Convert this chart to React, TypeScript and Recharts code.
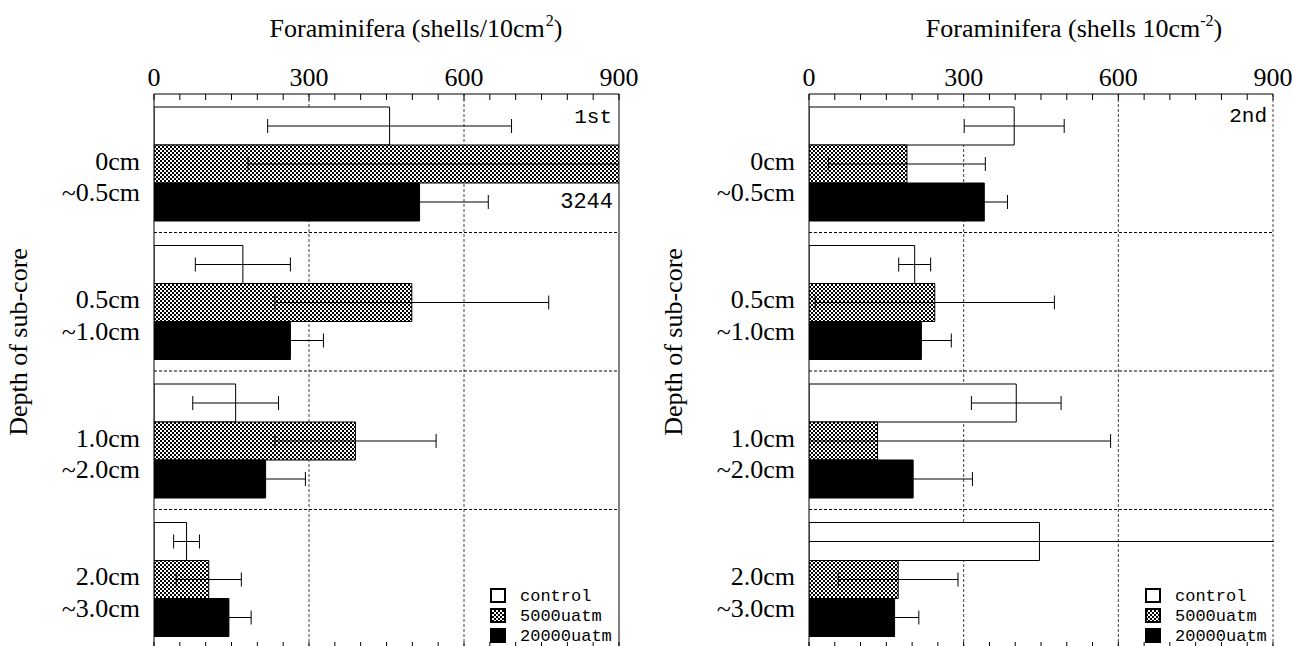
import React from 'react'
import { BarChart, Bar, XAxis, YAxis, CartesianGrid, ErrorBar, ReferenceLine } from 'recharts'

// depth classes of the sub-core (two lines per category)
const depthTop = ['0cm', '0.5cm', '1.0cm', '2.0cm']
const depthBottom = ['~0.5cm', '~1.0cm', '~2.0cm', '~3.0cm']
const seriesNames = ['control', '5000uatm', '20000uatm']
const xTicks = [0, 50, 100, 150, 200, 250, 300, 350, 400, 450, 500, 550, 600, 650, 700, 750, 800, 850, 900]
const majorTicks = [0, 300, 600, 900]

// 1st experiment
const firstControl = [456, 172, 158, 63]
const firstControlErr = [236, 92, 83, 25]
const first5000 = [3244, 499, 390, 106]
const first5000Err = [3062, 265, 156, 63]
const first20000 = [514, 264, 216, 145]
const first20000Err = [133, 64, 77, 43]

// 2nd experiment
const secondControl = [398, 205, 402, 447]
const secondControlErr = [97, 31, 87, 480]
const second5000 = [190, 244, 133, 173]
const second5000Err = [152, 232, 452, 116]
const second20000 = [340, 218, 202, 166]
const second20000Err = [45, 58, 115, 47]

const serif = '"Liberation Serif", "Times New Roman", serif'
const mono = '"Liberation Mono", monospace'

const buildRows = (
  c: number[], ce: number[], m: number[], me: number[], h: number[], he: number[],
) =>
  depthTop.map((d, i) => ({
    depth: `${d}|${depthBottom[i]}`,
    control: c[i],
    controlErr: ce[i],
    mid: m[i],
    midErr: me[i],
    high: h[i],
    highErr: he[i],
  }))

const firstRows = buildRows(firstControl, firstControlErr, first5000, first5000Err, first20000, first20000Err)
const secondRows = buildRows(secondControl, secondControlErr, second5000, second5000Err, second20000, second20000Err)

const TopTick = (props: any) => {
  const { x, y, payload } = props
  const axisY = y + 8
  return (
    <g>
      <line x1={x} x2={x} y1={axisY} y2={axisY + 6} stroke="#000" strokeWidth={1} />
      {majorTicks.includes(payload.value) && (
        <text x={x} y={y} textAnchor="middle" fontFamily={serif} fontSize={26} fill="#000">
          {payload.value}
        </text>
      )}
    </g>
  )
}

const BottomTick = (props: any) => {
  const { x, y } = props
  return <line x1={x} x2={x} y1={y} y2={y - 6} stroke="#000" strokeWidth={1} />
}

const DepthTick = (props: any) => {
  const { x, y, payload } = props
  const [a, b] = String(payload.value).split('|')
  return (
    <text textAnchor="end" fontFamily={serif} fontSize={26} fill="#000">
      <tspan x={x} y={y + 6.5}>{a}</tspan>
      <tspan x={x} y={y + 38}>{b}</tspan>
    </text>
  )
}

// dashed lines on the boundaries between depth classes
const boundaryGen = (props: any) => {
  const { yAxis, offset } = props
  if (yAxis && typeof yAxis.scale === 'function') {
    return depthTop.slice(1).map((_, i) => yAxis.scale(`${depthTop[i + 1]}|${depthBottom[i + 1]}`))
  }
  return depthTop.slice(1).map((_, i) => offset.top + (offset.height * (i + 1)) / depthTop.length)
}

interface PanelProps {
  rows: ReturnType<typeof buildRows>
  width: number
  marginRight: number
  edgeDashed: boolean
}

function Panel({ rows, width, marginRight, edgeDashed }: PanelProps) {
  return (
    <BarChart
      width={width}
      height={660}
      data={rows}
      layout="vertical"
      margin={{ top: 0, right: marginRight, bottom: 0, left: 0 }}
      barCategoryGap={13}
      barGap={0}
    >
      <CartesianGrid
        xAxisId="top"
        horizontal={false}
        vertical
        verticalValues={edgeDashed ? [300, 600, 900] : [300, 600]}
        stroke="#444"
        strokeDasharray="3 2"
      />
      <CartesianGrid
        xAxisId="top"
        vertical={false}
        horizontal
        horizontalCoordinatesGenerator={boundaryGen}
        stroke="#000"
        strokeDasharray="3 2"
      />
      <XAxis
        xAxisId="top"
        type="number"
        orientation="top"
        domain={[0, 900]}
        allowDataOverflow
        ticks={xTicks}
        interval={0}
        height={94}
        tickLine={false}
        tickSize={0}
        tickMargin={8}
        axisLine={{ stroke: '#000' }}
        tick={<TopTick />}
      />
      <XAxis
        xAxisId="bottom"
        type="number"
        orientation="bottom"
        domain={[0, 900]}
        allowDataOverflow
        ticks={xTicks}
        interval={0}
        height={12}
        tickLine={false}
        tickSize={0}
        tickMargin={0}
        axisLine={{ stroke: '#000' }}
        tick={<BottomTick />}
      />
      <YAxis
        type="category"
        dataKey="depth"
        width={154}
        interval={0}
        tickLine={false}
        tickSize={0}
        tickMargin={14}
        axisLine={{ stroke: '#000' }}
        tick={<DepthTick />}
      />
      <Bar xAxisId="top" dataKey="control" fill="#fff" stroke="#000" strokeWidth={1} isAnimationActive={false}>
        <ErrorBar dataKey="controlErr" direction="x" width={7} stroke="#000" strokeWidth={1} clipPath="url(#plotClip)" isAnimationActive={false} />
      </Bar>
      <Bar xAxisId="top" dataKey="mid" fill="url(#hatch)" stroke="#000" strokeWidth={1} isAnimationActive={false}>
        <ErrorBar dataKey="midErr" direction="x" width={7} stroke="#000" strokeWidth={1} clipPath="url(#plotClip)" isAnimationActive={false} />
      </Bar>
      <Bar xAxisId="top" dataKey="high" fill="#000" stroke="#000" strokeWidth={1} isAnimationActive={false}>
        <ErrorBar dataKey="highErr" direction="x" width={7} stroke="#000" strokeWidth={1} clipPath="url(#plotClip)" isAnimationActive={false} />
      </Bar>
      {!edgeDashed && <ReferenceLine xAxisId="top" x={900} stroke="#000" strokeWidth={1} />}
    </BarChart>
  )
}

const swatchFill = ['#fff', 'url(#hatch)', '#000']

function LegendBox({ x, y }: { x: number; y: number }) {
  return (
    <g>
      {seriesNames.map((name, i) => (
        <g key={name}>
          <rect x={x + 1} y={y + i * 20 + 1} width={14} height={13} fill={swatchFill[i]} stroke="#000" strokeWidth={2} />
          <text x={x + 30} y={y + i * 20 + 13} fontFamily={mono} fontSize={17} fill="#000">
            {name}
          </text>
        </g>
      ))}
    </g>
  )
}

export default function App() {
  return (
    <div style={{ position: 'absolute', left: 0, top: 0, width: 1293, height: 646, overflow: 'hidden', background: '#fff' }}>
      <div style={{ position: 'absolute', left: 0, top: 0 }}>
        <Panel rows={firstRows} width={640} marginRight={21} edgeDashed={false} />
      </div>
      <div style={{ position: 'absolute', left: 655, top: 0 }}>
        <Panel rows={secondRows} width={638} marginRight={20} edgeDashed />
      </div>
      <svg width={1293} height={646} style={{ position: 'absolute', left: 0, top: 0, pointerEvents: 'none' }}>
        <defs>
          <pattern id="hatch" patternUnits="userSpaceOnUse" width={4} height={4}>
            <rect x={0} y={0} width={4} height={4} fill="#fff" />
            <rect x={0} y={0} width={2} height={2} fill="#000" />
            <rect x={2} y={2} width={2} height={2} fill="#000" />
          </pattern>
          <clipPath id="plotClip" clipPathUnits="userSpaceOnUse">
            <rect x={154} y={94} width={465} height={554} />
          </clipPath>
        </defs>

        <text x={416} y={37} textAnchor="middle" fontFamily={serif} fontSize={26} fill="#000">
          Foraminifera (shells/10cm
          <tspan dx={1} dy={-11} fontSize={16}>2</tspan>
          <tspan dy={11}>)</tspan>
        </text>
        <text x={1074} y={37} textAnchor="middle" fontFamily={serif} fontSize={26} fill="#000">
          Foraminifera (shells 10cm
          <tspan dy={-11} fontSize={16}>-2</tspan>
          <tspan dy={11}>)</tspan>
        </text>

        <text x={27} y={342} transform="rotate(-90, 27, 342)" textAnchor="middle" fontFamily={serif} fontSize={26} fill="#000">
          Depth of sub-core
        </text>
        <text x={682} y={342} transform="rotate(-90, 682, 342)" textAnchor="middle" fontFamily={serif} fontSize={26} fill="#000">
          Depth of sub-core
        </text>

        <text x={612} y={123} textAnchor="end" fontFamily={mono} fontSize={21} fill="#000">1st</text>
        <text x={613} y={208} textAnchor="end" fontFamily={mono} fontSize={22} fill="#000">3244</text>
        <text x={1267} y={122} textAnchor="end" fontFamily={mono} fontSize={21} fill="#000">2nd</text>

        <LegendBox x={490} y={588} />
        <LegendBox x={1145} y={588} />
      </svg>
    </div>
  )
}
